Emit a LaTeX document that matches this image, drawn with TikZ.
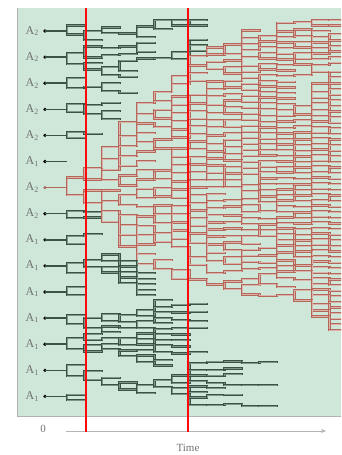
\documentclass[tikz,border=0pt]{standalone}
\usepackage{fontspec}
\setmainfont{Liberation Serif}
\usetikzlibrary{arrows.meta}
\definecolor{panel}{HTML}{CFE7D9}
\definecolor{dk}{HTML}{3A5444}
\definecolor{rd}{HTML}{B5675A}
\definecolor{lab}{HTML}{707070}
\definecolor{axisgray}{HTML}{B4B4B4}
\definecolor{markred}{HTML}{FF0A0A}
\tikzset{
  dkline/.style={draw=dk, line width=0.85pt, double=dk!55!panel, double distance=0.5pt, line cap=rect},
  rdline/.style={draw=rd, line width=0.85pt, double=rd!50!white, double distance=0.6pt, line cap=rect},
  markbar/.style={fill=markred, draw=none},
  lbl/.style={text=lab, font=\fontsize{12}{12}\selectfont, anchor=east, inner sep=0pt},
  axlbl/.style={text=lab, font=\fontsize{11}{11}\selectfont, inner sep=0pt},
}
\newcount\cntN \newcount\cntNN
\def\ymin{20}\def\ymax{406}\def\sp{5.5}
\newcommand\GetV[2]{\csname #1@\the\numexpr#2\relax\endcsname}
\newcommand\SetV[3]{\expandafter\xdef\csname #1@\the\numexpr#2\relax\endcsname{#3}}
\newcommand\PairSp[2]{\let\sq\sp\ifnum\GetV{NF}{#1}=7 \ifnum\GetV{NF}{#2}=7 \let\sq\spr\fi\fi}
% lifetimes of the families (rows)
\SetV{L}{1}{8}\SetV{L}{2}{8}\SetV{L}{3}{4}\SetV{L}{4}{3}\SetV{L}{5}{2}
\SetV{L}{6}{0}\SetV{L}{7}{99}\SetV{L}{8}{2}\SetV{L}{9}{2}\SetV{L}{10}{5}
\SetV{L}{11}{1}\SetV{L}{12}{8}\SetV{L}{13}{8}\SetV{L}{14}{12}\SetV{L}{15}{1}
\begin{document}
\begin{tikzpicture}[x=1pt,y=-1pt]
\useasboundingbox (0,0) rectangle (341,455);
\fill[panel] (17,8) rectangle (341,416);
\draw[gray!60, line width=0.8pt] (17,8) -- (17,416) -- (341,416);
\pgfmathsetseed{7}
% roots
\foreach \r/\s in {1/2,2/2,3/2,4/2,5/2,6/1,7/2,8/2,9/1,10/1,11/1,12/1,13/1,14/1,15/1}{
  \pgfmathsetmacro\yy{31+26.1*(\r-1)}
  \SetV{Y}{\r-1}{\yy}
  \SetV{F}{\r-1}{\r}
  \node[lbl] (lab\r) at (39,\yy) {A\textsubscript{\s}};
  \ifnum\r=7
    \fill[rd!70!gray] (45,\yy) circle (1.8) coordinate (dot\r);
    \draw[rd, line width=1.5pt] (45,\yy) -- (67,\yy);
  \else
    \fill[black] (45,\yy) circle (1.8) coordinate (dot\r);
    \draw[dk, line width=1.5pt] (45,\yy) -- (67,\yy);
  \fi
}
\global\cntN=15
\begin{scope}
\clip (17,8) rectangle (341,416);
\foreach \g in {0,...,15}{
  \pgfmathsetmacro\xb{67+17.5*\g}
  \pgfmathsetmacro\xc{\xb+17.5}
  \pgfmathsetmacro\spr{max(5.6, 11.5-0.55*\g)}
  \edef\nlast{\the\numexpr\cntN-1\relax}
  \foreach \f in {1,...,15}{\SetV{cnt}{\f}{0}}
  \foreach \i in {0,...,\nlast}{%
    \edef\curfam{\GetV{F}{\i}}%
    \SetV{cnt}{\curfam}{\the\numexpr\GetV{cnt}{\curfam}+1\relax}}
  \global\cntNN=0
  \gdef\alivefam{0}
  \foreach \i in {0,...,\nlast}{
    \edef\curfam{\GetV{F}{\i}}
    \edef\yy{\GetV{Y}{\i}}
    \edef\nf{\GetV{cnt}{\curfam}}
    \edef\lf{\GetV{L}{\curfam}}
    \pgfmathsetmacro\rr{rnd}
    \ifnum\curfam=7
      \pgfmathsetmacro\tgt{{2,4,7,11,15,19,23,27,31,35,39,42,45,48,51,53}[\g]}
      \ifnum\g>2 \def\pz{0.28}\else\def\pz{0}\fi
      \pgfmathsetmacro\ptwo{min(1-\pz, max(0, \tgt/\nf - 1 + \pz))}
      \pgfmathtruncatemacro\kk{\rr<\pz ? 0 : (\rr<\pz+\ptwo ? 2 : 1)}
    \else
      \ifnum\g<\lf\relax
        \ifnum\g=0
          \def\kk{2}
        \else
          \pgfmathsetmacro\tgt{max(1, 1 + 0.38*\lf*sin(180*(\g+1)/(\lf+1)))}
          \ifnum\nf>1 \def\pz{0.35}\else\def\pz{0}\fi
          \pgfmathsetmacro\ptwo{min(1-\pz, max(0, \tgt/\nf - 1 + \pz))}
          \pgfmathtruncatemacro\kk{\rr<\pz ? 0 : (\rr<\pz+\ptwo ? 2 : 1)}
        \fi
        \ifnum\kk=0
          \ifnum\alivefam=\curfam\else
            \ifnum\i=\nlast\relax \def\kk{1}\else
              \ifnum\GetV{F}{\i+1}=\curfam\else\def\kk{1}\fi
            \fi
          \fi
        \fi
      \else
        \def\kk{0}
      \fi
    \fi
    \ifnum\kk>0 \xdef\alivefam{\curfam}\fi
    \SetV{K}{\i}{\kk}
    \SetV{C}{\i}{\the\cntNN}
    \ifnum\kk>0
      \ifnum\curfam=7
        \ifnum\g<4 \pgfmathsetmacro\dd{12+6*rnd}\else\pgfmathsetmacro\dd{7+3*rnd}\fi
      \else \pgfmathsetmacro\dd{7+3*rnd}\fi
      \foreach \j in {1,...,\kk}{
        \pgfmathsetmacro\ny{\yy+(\j-1-(\kk-1)/2)*\dd + 5*rnd-2.5}
        \SetV{NY}{\cntNN}{\ny}
        \SetV{NF}{\cntNN}{\curfam}
        \global\advance\cntNN by 1
      }
    \fi
  }
  \edef\nnlast{\the\numexpr\cntNN-1\relax}
  \foreach \q in {0,...,\nnlast}{
    \ifnum\q=0 \pgfmathsetmacro\aa{max(\GetV{NY}{0},\ymin)}%
    \else \PairSp{\q-1}{\q}\pgfmathsetmacro\aa{max(\GetV{NY}{\q},\GetV{A}{\q-1}+\sq)}\fi
    \SetV{A}{\q}{\aa}
  }
  \foreach \q in {\nnlast,...,0}{
    \ifnum\q=\nnlast\relax \pgfmathsetmacro\bb{min(\GetV{NY}{\q},\ymax)}%
    \else \PairSp{\q}{\q+1}\pgfmathsetmacro\bb{min(\GetV{NY}{\q},\GetV{B}{\q+1}-\sq)}\fi
    \SetV{B}{\q}{\bb}
  }
  \foreach \q in {0,...,\nnlast}{
    \pgfmathsetmacro\zz{(\GetV{A}{\q}+\GetV{B}{\q})/2}
    \ifnum\q>0 \PairSp{\q-1}{\q}\pgfmathsetmacro\zz{max(\zz,\GetV{Z}{\q-1}+\sq)}\else\pgfmathsetmacro\zz{max(\zz,\ymin)}\fi
    \SetV{Z}{\q}{\zz}
  }
  \foreach \q in {\nnlast,...,0}{
    \ifnum\q=\nnlast\relax \pgfmathsetmacro\zz{min(\GetV{Z}{\q},\ymax)}\else
    \PairSp{\q}{\q+1}\pgfmathsetmacro\zz{min(\GetV{Z}{\q},\GetV{Z}{\q+1}-\sq)}\fi
    \SetV{Z}{\q}{\zz}
  }
  \foreach \i in {0,...,\nlast}{
    \edef\kk{\GetV{K}{\i}}
    \ifnum\kk>0
      \edef\curfam{\GetV{F}{\i}}
      \ifnum\curfam=7 \tikzset{lin/.style={rdline}}\else\tikzset{lin/.style={dkline}}\fi
      \edef\fc{\GetV{C}{\i}}
      \edef\lc{\the\numexpr\fc+\kk-1\relax}
      \pgfmathsetmacro\ya{min(\GetV{Y}{\i},\GetV{Z}{\fc})}
      \pgfmathsetmacro\yb{max(\GetV{Y}{\i},\GetV{Z}{\lc})}
      \draw[lin] (\xb,\ya) -- (\xb,\yb);
      \foreach \q in {\fc,...,\lc}{
        \edef\zq{\GetV{Z}{\q}}
        \draw[lin] (\xb,\zq) -- (\xc,\zq);
      }
    \fi
  }
  \foreach \q in {0,...,\nnlast}{
    \SetV{Y}{\q}{\GetV{Z}{\q}}
    \SetV{F}{\q}{\GetV{NF}{\q}}
  }
  \global\cntN=\cntNN
}
\end{scope}
% time axis
\coordinate (axs) at (66,431);
\coordinate (axe) at (326,431);
\draw[axisgray, line width=1pt, -{Stealth[length=5pt,width=4pt]}] (axs) -- (axe);
\node[axlbl] (zero) at (43,429) {0};
\node[axlbl] (time) at (188,448) {Time};
% red time markers
\coordinate (m1t) at (84.5,8); \coordinate (m1b) at (86.5,432);
\coordinate (m2t) at (186.5,8); \coordinate (m2b) at (188.5,432);
\path[markbar] (m1t) rectangle (m1b);
\path[markbar] (m2t) rectangle (m2b);
\end{tikzpicture}
\end{document}
